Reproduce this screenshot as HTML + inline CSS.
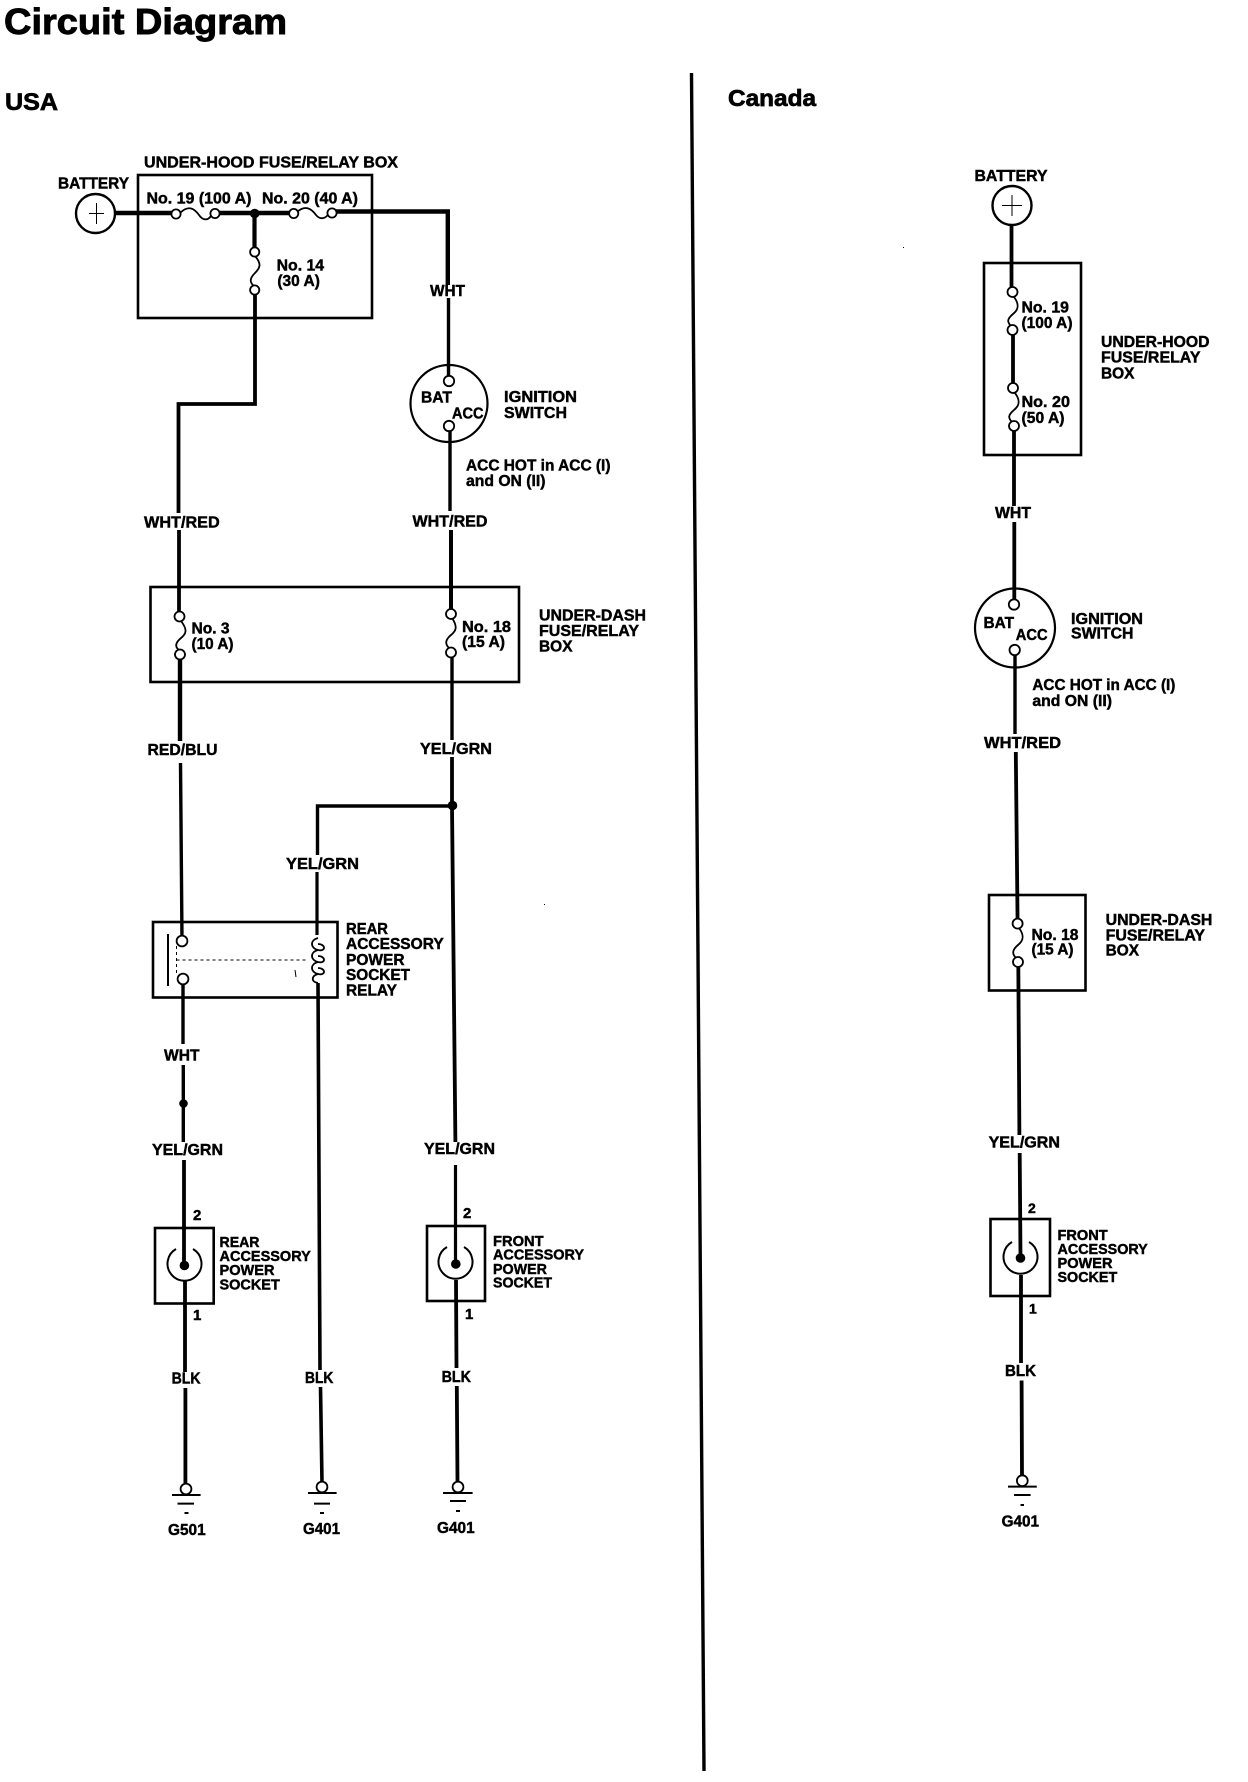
<!DOCTYPE html>
<html lang="en">
<head>
<meta charset="utf-8">
<title>Circuit Diagram</title>
<style>
html,body{margin:0;padding:0;background:#fff;width:1248px;height:1782px;overflow:hidden}
svg{display:block}
text{font-family:"Liberation Sans",Arial,sans-serif;font-weight:bold;fill:#000;stroke:#000;stroke-width:.45}
.w{fill:none;stroke:#000;stroke-linejoin:miter}
.b{fill:none;stroke:#000;stroke-width:2.6}
.c{fill:#fff;stroke:#000;stroke-width:1.8}
.f{fill:none;stroke:#000;stroke-width:1.8}
.t{stroke:#000;stroke-width:1;fill:none}
.g{stroke:#000;stroke-width:2;fill:none}
</style>
</head>
<body>
<svg xmlns="http://www.w3.org/2000/svg" width="1248" height="1782" viewBox="0 0 1248 1782">
<rect width="1248" height="1782" fill="#fff"/>

<!-- Headings -->
<text x="4" y="34" font-size="36" textLength="283" lengthAdjust="spacingAndGlyphs" style="stroke-width:.9">Circuit Diagram</text>
<text x="5" y="110" font-size="24" textLength="53" lengthAdjust="spacingAndGlyphs" style="stroke-width:.7">USA</text>
<text x="728" y="106" font-size="23" textLength="88" lengthAdjust="spacingAndGlyphs" style="stroke-width:.7">Canada</text>

<!-- Divider -->
<path class="w" stroke-width="3.4" d="M691.5 73 L704 1771"/>

<!-- ===== USA ===== -->
<!-- boxes -->
<rect class="b" x="138" y="175" width="234" height="143"/>
<rect class="b" x="150.5" y="587" width="368.5" height="95"/>
<rect class="b" x="153" y="922" width="184.5" height="75.5"/>
<rect class="b" x="155" y="1228" width="58.7" height="75.5"/>
<rect class="b" x="427" y="1226" width="58" height="75"/>

<!-- wires -->
<path class="w" stroke-width="4.4" d="M115 213 H176 M215 213 H294 M332 211.5 H447.8 V285"/>
<path class="w" stroke-width="3.4" d="M448.5 298 V381"/>
<path class="w" stroke-width="4.2" d="M254.5 213 V252"/>
<path class="w" stroke-width="3.8" d="M255 290 V404 H178.5 V513"/>
<path class="w" stroke-width="3.8" d="M179 530 V616"/>
<path class="w" stroke-width="3.4" d="M450 426 V511"/>
<path class="w" stroke-width="4" d="M451 530 V614"/>
<path class="w" stroke-width="4.4" d="M180 654 V741"/>
<path class="w" stroke-width="3.4" d="M180.5 763 L182 941"/>
<path class="w" stroke-width="3.4" d="M452 652 V740"/>
<path class="w" stroke-width="3.8" d="M452 757 V806 L455.4 1142"/>
<path class="w" stroke-width="3.4" d="M452 806 H317.5 V855"/>
<path class="w" stroke-width="3.2" d="M317 872 V935"/>
<path class="w" stroke-width="3.6" d="M318 983 L320 1370 M320.5 1387 L322 1483"/>
<path class="w" stroke-width="3.4" d="M183 979 V1044 M183.3 1065 V1142"/>
<path class="w" stroke-width="3.8" d="M184 1160 V1266"/>
<path class="w" stroke-width="3.8" d="M185 1281 V1372 M185.4 1388 V1484"/>
<path class="w" stroke-width="3.2" d="M455.5 1165 V1264"/>
<path class="w" stroke-width="3.8" d="M456 1280 L456.5 1368 M456.8 1386 L457.5 1482"/>

<!-- junctions -->
<circle cx="254.7" cy="213.5" r="4.8"/>
<circle cx="452.5" cy="805.5" r="4.8"/>
<circle cx="183.5" cy="1103.5" r="4.3"/>

<!-- battery -->
<circle cx="95.5" cy="213.5" r="19.5" fill="#fff" stroke="#000" stroke-width="2.4"/>
<path class="t" d="M89 213.5 H104 M96.5 203 V224"/>

<!-- fuses USA horizontal -->
<path class="f" d="M180 213 C188 205,194 208,199 215 C203 221,209 221,212 214"/>
<path class="f" d="M297 212 C305 205,311 208,316 215 C320 220,326 219,329 213"/>
<circle class="c" cx="176" cy="214" r="4.6"/><circle class="c" cx="215" cy="213.5" r="4.6"/>
<circle class="c" cx="293.7" cy="213.5" r="4.6"/><circle class="c" cx="332" cy="213" r="4.6"/>
<!-- fuse 14 -->
<path class="f" d="M255 256 C262 264,260 268,255 273 C250 278,249 282,254 286"/>
<circle class="c" cx="254.7" cy="252" r="4.6"/><circle class="c" cx="254.7" cy="290" r="4.6"/>
<!-- ignition -->
<circle cx="449" cy="403.5" r="38.5" fill="none" stroke="#000" stroke-width="2.2"/>
<circle class="c" cx="449" cy="381" r="5.2"/><circle class="c" cx="449" cy="426" r="5.2"/>
<!-- fuse 3, 18 -->
<path class="f" d="M181 621 C188 630,186 634,181 638 C175 643,175 647,179 650"/>
<circle class="c" cx="179.5" cy="616.5" r="5"/><circle class="c" cx="180" cy="654.5" r="5"/>
<path class="f" d="M452 618 C458 627,456 631,451 635 C445 640,445 644,449 648"/>
<circle class="c" cx="451" cy="614" r="5"/><circle class="c" cx="451" cy="652.5" r="5"/>
<!-- relay -->
<path class="g" d="M168 934 V986"/>
<path class="t" stroke-dasharray="3 3" d="M176.5 946 V975 M176.5 960 H308"/>
<circle class="c" cx="182" cy="941" r="5.4"/><circle class="c" cx="183" cy="979" r="5.4"/>
<path class="f" d="M318 938 C310 940,310 948,318 950 C326 952,326 944,318 944 M318 950 C310 952,310 960,318 962 C326 964,326 956,318 956 M318 962 C310 964,310 972,318 974 C326 976,326 968,318 968 M318 974 C311 976,311 982,318 983"/>
<path class="t" d="M295 970 L296 977"/>
<!-- sockets USA -->
<path class="g" d="M176 1249 A17 17 0 1 0 193 1249"/>
<circle cx="184.4" cy="1265.5" r="4.8"/>
<path class="g" d="M447 1247 A17 17 0 1 0 464 1247"/>
<circle cx="455.8" cy="1264" r="4.8"/>
<!-- grounds USA -->
<circle class="c" cx="186" cy="1489" r="5.4"/><path class="g" d="M172 1495 H200.6 M177.5 1503.6 H194 M184.5 1513 H188.5"/>
<circle class="c" cx="322" cy="1487" r="5.4"/><path class="g" d="M308 1493 H336.6 M314 1503.6 H330 M320 1513 H324"/>
<circle class="c" cx="458" cy="1487" r="5.4"/><path class="g" d="M443 1493 H472.6 M450 1501 H466 M456 1511 H460"/>

<!-- USA labels -->
<g font-size="16">
<text x="144" y="167.6" textLength="254" lengthAdjust="spacingAndGlyphs">UNDER-HOOD FUSE/RELAY BOX</text>
<text x="58" y="188.5" textLength="71" lengthAdjust="spacingAndGlyphs">BATTERY</text>
<text x="146.5" y="203.6" textLength="105" lengthAdjust="spacingAndGlyphs">No. 19 (100 A)</text>
<text x="262" y="203.6" textLength="96" lengthAdjust="spacingAndGlyphs">No. 20 (40 A)</text>
<text x="276.6" y="270.6" textLength="47.5" lengthAdjust="spacingAndGlyphs">No. 14</text>
<text x="277.4" y="286" textLength="42.5" lengthAdjust="spacingAndGlyphs">(30 A)</text>
<text x="430" y="296" textLength="35" lengthAdjust="spacingAndGlyphs">WHT</text>
<text x="421" y="402.6" textLength="31" lengthAdjust="spacingAndGlyphs">BAT</text>
<text x="452" y="418.5" textLength="31.5" lengthAdjust="spacingAndGlyphs">ACC</text>
<text x="504" y="402" textLength="73" lengthAdjust="spacingAndGlyphs">IGNITION</text>
<text x="504" y="418" textLength="63" lengthAdjust="spacingAndGlyphs">SWITCH</text>
<text x="466" y="470.7" textLength="144.5" lengthAdjust="spacingAndGlyphs">ACC HOT in ACC (I)</text>
<text x="466" y="486" textLength="79.5" lengthAdjust="spacingAndGlyphs">and ON (II)</text>
<text x="144" y="527.4" textLength="75.7" lengthAdjust="spacingAndGlyphs">WHT/RED</text>
<text x="412.5" y="526.4" textLength="75" lengthAdjust="spacingAndGlyphs">WHT/RED</text>
<text x="191.5" y="633.5" textLength="38" lengthAdjust="spacingAndGlyphs">No. 3</text>
<text x="191.5" y="648.8" textLength="42" lengthAdjust="spacingAndGlyphs">(10 A)</text>
<text x="462" y="632" textLength="49" lengthAdjust="spacingAndGlyphs">No. 18</text>
<text x="462" y="647" textLength="43" lengthAdjust="spacingAndGlyphs">(15 A)</text>
<text x="539" y="620.5" textLength="107" lengthAdjust="spacingAndGlyphs">UNDER-DASH</text>
<text x="539" y="636" textLength="100" lengthAdjust="spacingAndGlyphs">FUSE/RELAY</text>
<text x="539" y="651.5" textLength="33.5" lengthAdjust="spacingAndGlyphs">BOX</text>
<text x="147.5" y="755" textLength="70" lengthAdjust="spacingAndGlyphs">RED/BLU</text>
<text x="420" y="754" textLength="72" lengthAdjust="spacingAndGlyphs">YEL/GRN</text>
<text x="286" y="869" textLength="73" lengthAdjust="spacingAndGlyphs">YEL/GRN</text>
<text x="346" y="934" textLength="42" lengthAdjust="spacingAndGlyphs">REAR</text>
<text x="346" y="949" textLength="97.7" lengthAdjust="spacingAndGlyphs">ACCESSORY</text>
<text x="346" y="965" textLength="58.6" lengthAdjust="spacingAndGlyphs">POWER</text>
<text x="346" y="980" textLength="64" lengthAdjust="spacingAndGlyphs">SOCKET</text>
<text x="346" y="995.5" textLength="51" lengthAdjust="spacingAndGlyphs">RELAY</text>
<text x="164" y="1060.6" textLength="35.5" lengthAdjust="spacingAndGlyphs">WHT</text>
<text x="152" y="1155" textLength="71" lengthAdjust="spacingAndGlyphs">YEL/GRN</text>
<text x="424" y="1154" textLength="71" lengthAdjust="spacingAndGlyphs">YEL/GRN</text>
<text x="193" y="1220" font-size="15">2</text>
<text x="193" y="1320" font-size="15">1</text>
<text x="463" y="1218" font-size="15">2</text>
<text x="465" y="1319" font-size="15">1</text>
<text x="219.5" y="1247" textLength="40" lengthAdjust="spacingAndGlyphs" font-size="15">REAR</text>
<text x="219.5" y="1261" textLength="91.3" lengthAdjust="spacingAndGlyphs" font-size="15">ACCESSORY</text>
<text x="219.5" y="1275" textLength="55" lengthAdjust="spacingAndGlyphs" font-size="15">POWER</text>
<text x="219.5" y="1289.4" textLength="60.3" lengthAdjust="spacingAndGlyphs" font-size="15">SOCKET</text>
<text x="493" y="1246" textLength="50.6" lengthAdjust="spacingAndGlyphs" font-size="15">FRONT</text>
<text x="493" y="1259.5" textLength="91" lengthAdjust="spacingAndGlyphs" font-size="15">ACCESSORY</text>
<text x="493" y="1274" textLength="54" lengthAdjust="spacingAndGlyphs" font-size="15">POWER</text>
<text x="493" y="1287.5" textLength="59" lengthAdjust="spacingAndGlyphs" font-size="15">SOCKET</text>
<text x="171.6" y="1383.5" textLength="29" lengthAdjust="spacingAndGlyphs">BLK</text>
<text x="305" y="1383" textLength="28.4" lengthAdjust="spacingAndGlyphs">BLK</text>
<text x="441.6" y="1382" textLength="29.4" lengthAdjust="spacingAndGlyphs">BLK</text>
<text x="168" y="1535" textLength="37.7" lengthAdjust="spacingAndGlyphs">G501</text>
<text x="303" y="1534" textLength="37" lengthAdjust="spacingAndGlyphs">G401</text>
<text x="437" y="1533" textLength="37.7" lengthAdjust="spacingAndGlyphs">G401</text>
</g>

<!-- ===== CANADA ===== -->
<rect class="b" x="984" y="263" width="97" height="192"/>
<rect class="b" x="989" y="895" width="96.5" height="95.5"/>
<rect class="b" x="990.5" y="1219" width="59.5" height="77"/>

<path class="w" stroke-width="3.8" d="M1011.5 225 V292"/>
<path class="w" stroke-width="3.8" d="M1013 330 V388"/>
<path class="w" stroke-width="3.8" d="M1014 426 V506 M1014.3 522 V604"/>
<path class="w" stroke-width="3.4" d="M1015 650 V734"/>
<path class="w" stroke-width="3.8" d="M1015.8 752 L1017.6 924"/>
<path class="w" stroke-width="3.8" d="M1018.3 962 L1019.4 1135 M1019.7 1153 L1020.5 1258"/>
<path class="w" stroke-width="3.8" d="M1021 1275 V1363 M1021.6 1380.5 L1022 1476"/>

<circle cx="1012" cy="205.5" r="19.5" fill="#fff" stroke="#000" stroke-width="2.4"/>
<path class="t" d="M1002 205.5 H1022 M1012 195 V216"/>

<path class="f" d="M1014 297 C1020 305,1018 310,1013 314 C1007 319,1007 322,1011 326"/>
<circle class="c" cx="1012.5" cy="292" r="5"/><circle class="c" cx="1012.5" cy="330" r="5"/>
<path class="f" d="M1015 393 C1021 401,1019 406,1014 410 C1008 415,1008 418,1012 422"/>
<circle class="c" cx="1013" cy="388" r="5"/><circle class="c" cx="1014" cy="426" r="5"/>

<ellipse cx="1015" cy="628" rx="40" ry="39.5" fill="none" stroke="#000" stroke-width="2.2"/>
<circle class="c" cx="1014" cy="604.5" r="5.2"/><circle class="c" cx="1014.7" cy="650" r="5.2"/>

<path class="f" d="M1019 928 C1025 936,1023 941,1018 945 C1012 950,1012 954,1016 958"/>
<circle class="c" cx="1017.6" cy="923.6" r="5"/><circle class="c" cx="1018" cy="962" r="5"/>

<path class="g" d="M1012 1242 A17 17 0 1 0 1029 1242"/>
<circle cx="1020.5" cy="1258" r="4.8"/>

<circle class="c" cx="1022.3" cy="1480.7" r="5.4"/>
<path class="g" d="M1008 1486.6 H1036.8 M1014 1495 H1030.6 M1020.5 1505 H1024"/>

<g font-size="15.5">
<text x="974.5" y="181" textLength="73" lengthAdjust="spacingAndGlyphs">BATTERY</text>
<text x="1021.5" y="312.7" textLength="47.4" lengthAdjust="spacingAndGlyphs">No. 19</text>
<text x="1021.5" y="328" textLength="51" lengthAdjust="spacingAndGlyphs">(100 A)</text>
<text x="1021.5" y="407" textLength="48.5" lengthAdjust="spacingAndGlyphs">No. 20</text>
<text x="1021.5" y="423" textLength="43" lengthAdjust="spacingAndGlyphs">(50 A)</text>
<text x="1101" y="347" textLength="108.5" lengthAdjust="spacingAndGlyphs">UNDER-HOOD</text>
<text x="1101" y="362.7" textLength="99.5" lengthAdjust="spacingAndGlyphs">FUSE/RELAY</text>
<text x="1101" y="378.5" textLength="33.5" lengthAdjust="spacingAndGlyphs">BOX</text>
<text x="995" y="518" textLength="36" lengthAdjust="spacingAndGlyphs">WHT</text>
<text x="983.5" y="628" textLength="30.5" lengthAdjust="spacingAndGlyphs">BAT</text>
<text x="1015.8" y="640" textLength="31.8" lengthAdjust="spacingAndGlyphs">ACC</text>
<text x="1071" y="624" textLength="72" lengthAdjust="spacingAndGlyphs">IGNITION</text>
<text x="1071" y="638.5" textLength="62.5" lengthAdjust="spacingAndGlyphs">SWITCH</text>
<text x="1032.4" y="690" textLength="143" lengthAdjust="spacingAndGlyphs">ACC HOT in ACC (I)</text>
<text x="1032.4" y="706" textLength="79.6" lengthAdjust="spacingAndGlyphs">and ON (II)</text>
<text x="984" y="748" textLength="77" lengthAdjust="spacingAndGlyphs">WHT/RED</text>
<text x="1031.5" y="940" textLength="47" lengthAdjust="spacingAndGlyphs">No. 18</text>
<text x="1031.5" y="954.6" textLength="42" lengthAdjust="spacingAndGlyphs">(15 A)</text>
<text x="1105.6" y="925" textLength="106.8" lengthAdjust="spacingAndGlyphs">UNDER-DASH</text>
<text x="1105.6" y="940.7" textLength="99.4" lengthAdjust="spacingAndGlyphs">FUSE/RELAY</text>
<text x="1105.6" y="955.7" textLength="33.4" lengthAdjust="spacingAndGlyphs">BOX</text>
<text x="988.6" y="1147.6" textLength="71.4" lengthAdjust="spacingAndGlyphs">YEL/GRN</text>
<text x="1028" y="1213" font-size="14">2</text>
<text x="1029" y="1313.6" font-size="14">1</text>
<text x="1057.5" y="1240" textLength="50.2" lengthAdjust="spacingAndGlyphs" font-size="14.5">FRONT</text>
<text x="1057.5" y="1254" textLength="90.2" lengthAdjust="spacingAndGlyphs" font-size="14.5">ACCESSORY</text>
<text x="1057.5" y="1268" textLength="55" lengthAdjust="spacingAndGlyphs" font-size="14.5">POWER</text>
<text x="1057.5" y="1282" textLength="59.7" lengthAdjust="spacingAndGlyphs" font-size="14.5">SOCKET</text>
<text x="1005" y="1376" textLength="31" lengthAdjust="spacingAndGlyphs">BLK</text>
<text x="1001.6" y="1526.5" textLength="37.4" lengthAdjust="spacingAndGlyphs">G401</text>
</g>

<!-- specks -->
<rect x="903" y="247" width="1" height="1"/>
<rect x="544" y="904" width="1" height="1"/>
</svg>
</body>
</html>
